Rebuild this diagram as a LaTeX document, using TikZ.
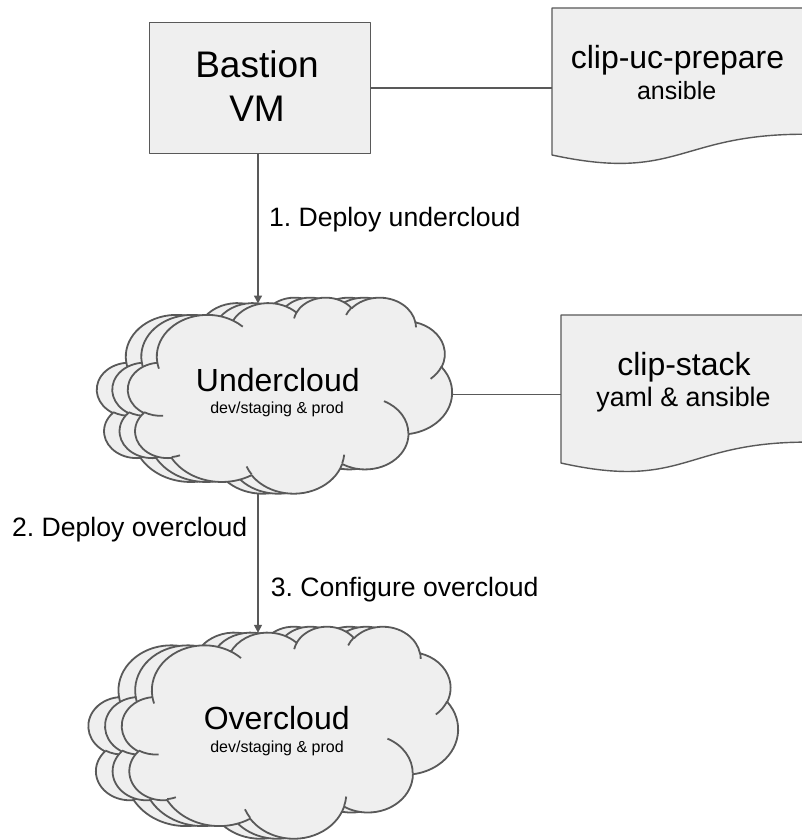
\documentclass[tikz,border=0pt]{standalone}
\usepackage{fontspec}
\setmainfont{Liberation Sans}
\usetikzlibrary{arrows.meta,calc}
\frenchspacing

\definecolor{shapegray}{HTML}{EFEFEF}
\definecolor{edgegray}{HTML}{595959}

% Cloud outline on a 432 x 432 grid (y pointing down).
% Each lump: x radius / y radius / visual start angle / visual sweep.
% Visual angles are turned into parametric ellipse angles here.
\newcommand\cldmain{}
\newcommand\cldinner{}
\foreach \rx/\ry/\st/\sw in {67.53/91.90/-190.48748/123.78053,53.33/72.67/-144.10238/89.94523,43.65/59.45/-145.80792/99.72302,48.57/65.95/-130.98607/117.24173,53.33/72.73/-78.70888/109.02692,67.75/92.20/-46.26725/130.26900,57.85/78.67/0.62502/114.03333,67.52/92.15/22.45160/115.17255,77.20/105.43/66.24263/75.71102,43.60/59.18/-274.94208/146.73557,43.45/59.45/-246.82850/152.51885}{%
  \pgfmathsetmacro\cta{atan2((\rx)*sin(\st),(\ry)*cos(\st))}%
  \pgfmathsetmacro\ctb{atan2((\rx)*sin(\st+\sw),(\ry)*cos(\st+\sw))}%
  \pgfmathsetmacro\ctd{mod((\ctb)-(\cta)+720,360)}%
  \xdef\cldmain{\cldmain arc[x radius=\rx, y radius=\ry, start angle=\cta, delta angle=\ctd]}%
}
% Inner creases of the cloud: start point / radii / visual angles.
\foreach \px/\py/\rx/\ry/\st/\sw in {46.93/261.77/43.45/59.45/86.7420/26.4295,69.28/348.99/43.60/59.18/73.6105/11.4475,164.78/390.90/67.52/92.15/137.6242/14.0811,288.27/347.51/67.52/92.15/6.4533/15.9984,341.29/229.54/57.85/78.67/-70.2924/70.9174,417.98/153.54/53.33/72.73/30.3180/27.7515,383.24/54.26/48.57/65.95/-13.7443/14.8506,290.78/39.52/48.57/65.95/-149.1815/18.1954,221.41/47.20/43.65/59.45/-163.4943/17.6864,140.00/51.92/67.53/91.90/-66.7070/12.3194,41.27/157.89/67.53/91.90/157.6544/11.8582}{%
  \pgfmathsetmacro\cta{atan2((\rx)*sin(\st),(\ry)*cos(\st))}%
  \pgfmathsetmacro\ctb{atan2((\rx)*sin(\st+\sw),(\ry)*cos(\st+\sw))}%
  \pgfmathsetmacro\ctd{mod((\ctb)-(\cta)+720,360)}%
  \xdef\cldinner{\cldinner (\px,\py) arc[x radius=\rx, y radius=\ry, start angle=\cta, delta angle=\ctd]}%
}

% Three stacked clouds inside the frame node #1, copies stepped by #4 to the left
\newcommand\cloudstack[4]{%
  \foreach \k in {2,1,0}{%
    \begin{scope}[shift={(#1.north west)}, xshift={\k*(#4)}, xscale=#2, yscale=#3]
      \filldraw[cloudbody] (39,143.7) \cldmain -- cycle;
      \draw[cloudbody, fill=none] \cldinner;
    \end{scope}}}

% Document shape with a wavy bottom edge filling frame node #1 (#2 wide, #3 high)
\newcommand\docoutline[3]{%
  \begin{scope}[shift={(#1.north west)}, xscale=#2, yscale=-#3]
    \filldraw[shapebody] (0,0) -- (1,0) -- (1,0.80194)
      .. controls (0.5,0.80194) and (0.5,1.1075) .. (0,0.93389) -- cycle;
  \end{scope}}

\begin{document}
\begin{tikzpicture}[x=1pt,y=1pt,
  shapebody/.style={fill=shapegray, draw=edgegray, line width=1.4pt, line join=round},
  cloudbody/.style={fill=shapegray, draw=edgegray, line width=1.8pt, line join=round},
  framebox/.style={draw=none, inner sep=0pt, anchor=north west},
  link/.style={draw=edgegray, line width=1.4pt},
  flow/.style={link, -{Triangle[length=8pt,width=8pt]}},
  txt/.style={inner sep=0pt, anchor=base, text=black},
  labeltxt/.style={inner sep=0pt, anchor=base west, text=black, font=\fontsize{26.6}{31}\selectfont}]
\useasboundingbox (0,0) rectangle (802,-840);
\fill[white] (0,0) rectangle (802,-840);

% frames of the shapes
\node[shapebody, anchor=north west, minimum width=221, minimum height=131] (bastion) at (149,-22) {};
\node[framebox, minimum width=252, minimum height=157.4] (prep) at (552,-8) {};
\node[framebox, minimum width=246, minimum height=158.5] (stack) at (561,-315) {};
\node[framebox, minimum width=324, minimum height=196] (under) at (128,-297) {};
\node[framebox, minimum width=336, minimum height=212] (over) at (122,-626) {};

% shapes
\docoutline{prep}{252}{157.4}
\docoutline{stack}{246}{158.5}
\cloudstack{under}{0.75}{-0.453704}{-15.5}
\cloudstack{over}{0.777778}{-0.490741}{-16.7}

% texts
\node[txt, font=\fontsize{37}{44}\selectfont] (bastionname) at (257,-77.7) {Bastion};
\node[txt, font=\fontsize{37}{44}\selectfont] (bastionkind) at (257,-121.7) {VM};
\node[txt, font=\fontsize{32}{38}\selectfont] (prepname) at (677.5,-68.3) {clip-uc-prepare};
\node[txt, font=\fontsize{25}{30}\selectfont] (preptool) at (676.7,-100) {ansible};
\node[txt, font=\fontsize{32}{38}\selectfont] (stackname) at (684,-375) {clip-stack};
\node[txt, font=\fontsize{26.8}{31}\selectfont] (stacktool) at (683.5,-406.7) {yaml \& ansible};
\node[txt, font=\fontsize{32}{38}\selectfont] (undername) at (277.8,-391) {Undercloud};
\node[txt, font=\fontsize{16}{19}\selectfont] (underenv) at (277,-413.5) {dev/staging \& prod};
\node[txt, font=\fontsize{32}{38}\selectfont] (overname) at (276.7,-729.3) {Overcloud};
\node[txt, font=\fontsize{16}{19}\selectfont] (overenv) at (277,-752.3) {dev/staging \& prod};

% connectors
\coordinate (uctop) at (258,-303.5);
\coordinate (octop) at (258,-632.8);
\draw[link] (bastion.east) -- (bastion.east -| prep.west);
\draw[link] (under.east |- stack.west) -- (stack.west);
\draw[flow] (uctop |- bastion.south) -- (uctop);
\draw[flow] (uctop |- under.south) -- (octop);

\node[labeltxt] (step1) at (268.8,-226.7) {1. Deploy undercloud};
\node[labeltxt] (step2) at (11.9,-536.7) {2. Deploy overcloud};
\node[labeltxt] (step3) at (270.6,-596.7) {3. Configure overcloud};
\end{tikzpicture}
\end{document}
